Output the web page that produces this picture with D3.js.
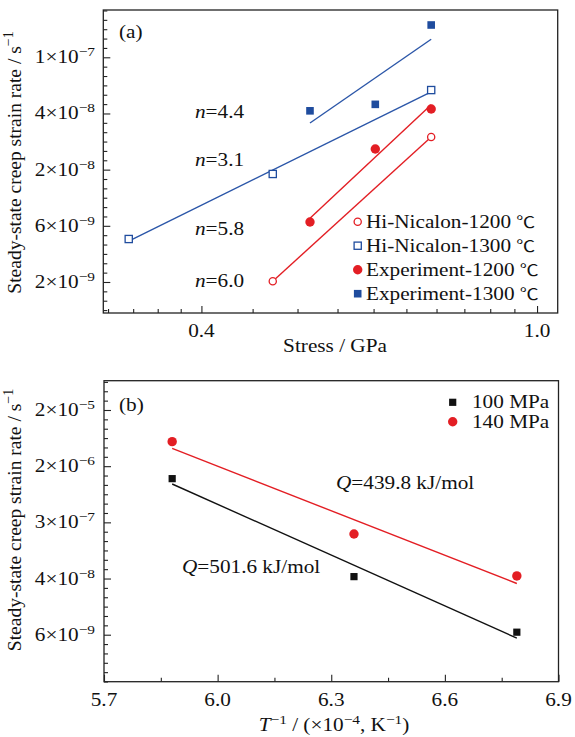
<!DOCTYPE html>
<html><head><meta charset="utf-8">
<script src="https://cdn.jsdelivr.net/npm/d3@7"></script>
<style>
body{margin:0;background:#fff}
svg{display:block}
text{font-family:"Liberation Serif","Times New Roman",serif;fill:#111}
</style>
</head><body>
<svg id="c" width="575" height="737"></svg>
<script>
// ---------- Panel (a) data ----------
const stressHN1200 = [0.486, 0.749];
const rateHN1200   = [2.09e-9, 2.72e-8];
const stressHN1300 = [0.328, 0.486, 0.749];
const rateHN1300   = [4.43e-9, 1.41e-8, 6.28e-8];
const stressExp1200 = [0.538, 0.643, 0.749];
const rateExp1200   = [6.00e-9, 2.20e-8, 4.48e-8];
const stressExp1300 = [0.538, 0.643, 0.749];
const rateExp1300   = [4.34e-8, 4.87e-8, 2.00e-7];
const legendA = ["Hi-Nicalon-1200", "Hi-Nicalon-1300", "Experiment-1200", "Experiment-1300"];
const nLabels = ["4.4", "3.1", "5.8", "6.0"];
const aXTicks = [0.4, 1.0];
const aXTickLabels = ["0.4", "1.0"];
const aXMinor = [0.31, 0.332, 0.355, 0.378, 0.46, 0.52, 0.58, 0.64, 0.70, 0.76, 0.82, 0.88, 0.94];
const aYTickLn = [-20, -19, -18, -17, -16];
const aYTickBase = ["2×10", "6×10", "2×10", "4×10", "1×10"];
const aYTickExp = ["−9", "−9", "−8", "−8", "−7"];

// ---------- Panel (b) data ----------
const invT = [5.88, 6.36, 6.79];
const rate100 = [1.45e-6, 4.43e-8, 6.13e-9];
const rate140 = [5.41e-6, 2.02e-7, 4.54e-8];
const legendB = ["100 MPa", "140 MPa"];
const qLabels = ["501.6", "439.8"];
const bXTicks = [5.7, 6.0, 6.3, 6.6, 6.9];
const bXTickLabels = ["5.7", "6.0", "6.3", "6.6", "6.9"];
const bXMinor = [5.85, 6.15, 6.45, 6.75];
const bYTickLn = [-19, -17, -15, -13, -11];
const bYTickBase = ["6×10", "4×10", "3×10", "2×10", "2×10"];
const bYTickExp = ["−9", "−8", "−7", "−6", "−5"];

const BLUE = "#1f4c9e", BLUE_L = "#2b56a8", RED = "#e31e24", BLACK = "#111";
const SX = 1.18;

const svg = d3.select("#c");

function label(g, x, y, anchor, parts, size, sx) {
  size = size || 18; sx = sx === undefined ? SX : sx;
  const t = g.append("text")
    .attr("transform", `translate(${x},${y}) scale(${sx},1)`)
    .attr("text-anchor", anchor).style("font-size", size + "px");
  let prevSup = false;
  parts.forEach(p => {
    const ts = t.append("tspan").text(p.t);
    if (p.sup) { ts.attr("dy", -7).style("font-size", "13px"); }
    else if (prevSup) { ts.attr("dy", 7); }
    if (p.i) ts.style("font-style", "italic");
    if (p.f) ts.style("font-family", p.f).style("font-size", (p.fs || size) + "px");
    prevSup = !!p.sup;
  });
  return t;
}

function fit(xs, ys) {
  const n = xs.length, mx = d3.mean(xs), my = d3.mean(ys);
  let sxy = 0, sxx = 0;
  for (let i = 0; i < n; i++) { sxy += (xs[i]-mx)*(ys[i]-my); sxx += (xs[i]-mx)**2; }
  const b = sxy / sxx; return { b, a: my - b*mx };
}

// ================= Panel (a) =================
const xA = d3.scaleLog().domain([0.306, 1.058]).range([103.3, 557.7]);
const yA = d3.scaleLog().base(Math.E).domain([Math.exp(-20.552), Math.exp(-15.158)]).range([313, 10]);
const gA = svg.append("g");

const aYMinor = [];
for (let k = Math.ceil(-20.552*6); k <= Math.floor(-15.158*6); k++) if (k % 6 !== 0) aYMinor.push(Math.exp(k/6));
function styleAxis(sel){ sel.select(".domain").remove(); sel.selectAll("line").attr("stroke", "#222").attr("stroke-width", 1.1); }
gA.append("g").attr("transform", "translate(103.3,0)")
  .call(d3.axisLeft(yA).tickValues(aYTickLn.map(v => Math.exp(v))).tickSize(-7).tickFormat("")).call(styleAxis);
gA.append("g").attr("transform", "translate(103.3,0)")
  .call(d3.axisLeft(yA).tickValues(aYMinor).tickSize(-4).tickFormat("")).call(styleAxis);
gA.append("g").attr("transform", "translate(0,313)")
  .call(d3.axisBottom(xA).tickValues(aXTicks).tickSize(-7).tickFormat("")).call(styleAxis);
gA.append("g").attr("transform", "translate(0,313)")
  .call(d3.axisBottom(xA).tickValues(aXMinor).tickSize(-4).tickFormat("")).call(styleAxis);

gA.append("rect").attr("x", 103.3).attr("y", 10).attr("width", 557.7-103.3).attr("height", 303)
  .attr("fill", "none").attr("stroke", "#222").attr("stroke-width", 1.3);

aYTickLn.forEach((v, i) => label(gA, 95, yA(Math.exp(v)) + 6, "end", [{t: aYTickBase[i]}, {t: aYTickExp[i], sup: true}]));
aXTicks.forEach((v, i) => label(gA, xA(v), 337, "middle", [{t: aXTickLabels[i]}]));
label(gA, 335, 352, "middle", [{t: "Stress / GPa"}]);
svg.append("text").attr("transform", "translate(21,162.5) rotate(-90)").attr("text-anchor", "middle")
  .style("font-size", "19.5px")
  .call(t => { t.append("tspan").text("Steady-state creep strain rate / s"); t.append("tspan").attr("dy", -8).style("font-size", "14px").text("−1"); });
label(gA, 119, 38, "start", [{t: "(a)"}]);

function fitLineA(xs, ys, color) {
  const f = fit(xs.map(Math.log), ys.map(Math.log));
  const x0 = d3.min(xs), x1 = d3.max(xs);
  const pts = [x0, x1].map(x => [xA(x), yA(Math.exp(f.a + f.b*Math.log(x)))]);
  gA.append("path").attr("d", d3.line()(pts)).attr("stroke", color).attr("stroke-width", 1.4).attr("fill", "none");
}
fitLineA(stressHN1300, rateHN1300, BLUE_L);
fitLineA(stressExp1300, rateExp1300, BLUE_L);
fitLineA(stressHN1200, rateHN1200, RED);
fitLineA(stressExp1200, rateExp1200, RED);

function marker(g, type, x, y) {
  if (type === "oc") g.append("circle").attr("cx", x).attr("cy", y).attr("r", 3.6).attr("fill", "#fff").attr("stroke", RED).attr("stroke-width", 1.3);
  if (type === "fc") g.append("circle").attr("cx", x).attr("cy", y).attr("r", 4.7).attr("fill", RED);
  if (type === "os") g.append("rect").attr("x", x-3.6).attr("y", y-3.6).attr("width", 7.2).attr("height", 7.2).attr("fill", "#fff").attr("stroke", BLUE).attr("stroke-width", 1.3);
  if (type === "fs") g.append("rect").attr("x", x-3.8).attr("y", y-3.8).attr("width", 7.6).attr("height", 7.6).attr("fill", BLUE);
  if (type === "ks") g.append("rect").attr("x", x-3.6).attr("y", y-3.6).attr("width", 7.2).attr("height", 7.2).attr("fill", BLACK);
}
stressHN1200.forEach((s, i) => marker(gA, "oc", xA(s), yA(rateHN1200[i])));
stressHN1300.forEach((s, i) => marker(gA, "os", xA(s), yA(rateHN1300[i])));
stressExp1200.forEach((s, i) => marker(gA, "fc", xA(s), yA(rateExp1200[i])));
stressExp1300.forEach((s, i) => marker(gA, "fs", xA(s), yA(rateExp1300[i])));

const nY = [118, 166, 235, 287];
nLabels.forEach((n, i) => label(gA, 195, nY[i], "start", [{t: "n", i: true}, {t: "=" + n}]));

const legTypes = ["oc", "os", "fc", "fs"];
legendA.forEach((s, i) => {
  const yy = 221.7 + i*24;
  marker(gA, legTypes[i], 357.7, yy);
  label(gA, 366, yy + 6, "start", [{t: s + " "}, {t: "℃", f: "'Noto Sans CJK SC'", fs: 16}]);
});

// ================= Panel (b) =================
const xB = d3.scaleLinear().domain([5.7, 6.9]).range([104, 558.5]);
const yB = d3.scaleLog().base(Math.E).domain([Math.exp(-20.673), Math.exp(-9.957)]).range([681.7, 380.7]);
const gB = svg.append("g");
const bYMinor = [];
for (let k = Math.ceil(-20.673*3); k <= Math.floor(-9.957*3); k++) {
  const v = k/3; if (!bYTickLn.includes(v)) bYMinor.push(Math.exp(v));
}
gB.append("g").attr("transform", "translate(104,0)")
  .call(d3.axisLeft(yB).tickValues(bYTickLn.map(v => Math.exp(v))).tickSize(-7).tickFormat("")).call(styleAxis);
gB.append("g").attr("transform", "translate(104,0)")
  .call(d3.axisLeft(yB).tickValues(bYMinor).tickSize(-4).tickFormat("")).call(styleAxis);
gB.append("g").attr("transform", "translate(0,681.7)")
  .call(d3.axisBottom(xB).tickValues(bXTicks).tickSize(-7).tickFormat("")).call(styleAxis);
gB.append("g").attr("transform", "translate(0,681.7)")
  .call(d3.axisBottom(xB).tickValues(bXMinor).tickSize(-4).tickFormat("")).call(styleAxis);
gB.append("rect").attr("x", 104).attr("y", 380.7).attr("width", 558.5-104).attr("height", 681.7-380.7)
  .attr("fill", "none").attr("stroke", "#222").attr("stroke-width", 1.3);

bYTickLn.forEach((v, i) => label(gB, 95, yB(Math.exp(v)) + 6, "end", [{t: bYTickBase[i]}, {t: bYTickExp[i], sup: true}]));
bXTicks.forEach((v, i) => label(gB, xB(v), 706, "middle", [{t: bXTickLabels[i]}]));
label(gB, 334, 731, "middle", [{t: "T", i: true}, {t: "−1", sup: true}, {t: " / (×10"}, {t: "−4", sup: true}, {t: ", K"}, {t: "−1", sup: true}, {t: ")"}]);
svg.append("text").attr("transform", "translate(21,520) rotate(-90)").attr("text-anchor", "middle")
  .style("font-size", "19.5px")
  .call(t => { t.append("tspan").text("Steady-state creep strain rate / s"); t.append("tspan").attr("dy", -8).style("font-size", "14px").text("−1"); });
label(gB, 119, 411, "start", [{t: "(b)"}]);

function fitLineB(xs, ys, color) {
  const f = fit(xs, ys.map(Math.log));
  const x0 = d3.min(xs), x1 = d3.max(xs);
  const pts = [x0, x1].map(x => [xB(x), yB(Math.exp(f.a + f.b*x))]);
  gB.append("path").attr("d", d3.line()(pts)).attr("stroke", color).attr("stroke-width", 1.4).attr("fill", "none");
}
fitLineB(invT, rate140, RED);
fitLineB(invT, rate100, BLACK);
invT.forEach((x, i) => marker(gB, "ks", xB(x), yB(rate100[i])));
invT.forEach((x, i) => marker(gB, "fc", xB(x), yB(rate140[i])));

label(gB, 182, 573, "start", [{t: "Q", i: true}, {t: "=" + qLabels[0] + " kJ/mol"}]);
label(gB, 336, 489, "start", [{t: "Q", i: true}, {t: "=" + qLabels[1] + " kJ/mol"}]);

marker(gB, "ks", 452.7, 402.3);
marker(gB, "fc", 452.7, 421.7);
label(gB, 472, 402.3 + 6, "start", [{t: legendB[0]}]);
label(gB, 472, 421.7 + 6, "start", [{t: legendB[1]}]);
</script>
</body></html>
